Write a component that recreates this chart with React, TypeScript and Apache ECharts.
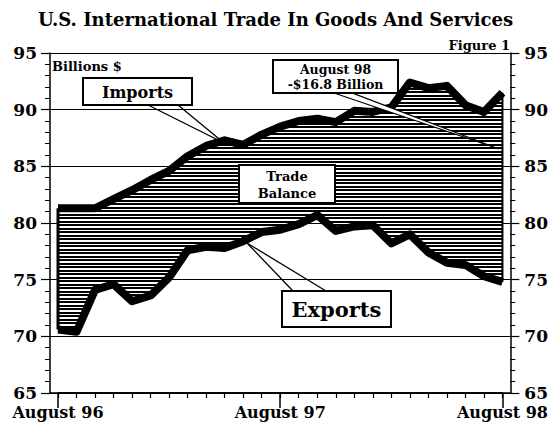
import React, { useEffect, useRef } from "react";
import * as echarts from "echarts";

const months = [
  "August 96", "September 96", "October 96", "November 96", "December 96",
  "January 97", "February 97", "March 97", "April 97", "May 97", "June 97", "July 97",
  "August 97", "September 97", "October 97", "November 97", "December 97",
  "January 98", "February 98", "March 98", "April 98", "May 98", "June 98", "July 98",
  "August 98",
];
const imports = [
  81.3, 81.3, 81.3, 82.1, 82.9, 83.8, 84.6, 85.9, 86.8, 87.3, 86.9, 87.8,
  88.5, 89.0, 89.2, 88.9, 89.9, 89.8, 90.2, 92.4, 91.9, 92.1, 90.4, 89.8, 91.5,
];
const exportsVals = [
  70.6, 70.4, 74.1, 74.6, 73.1, 73.6, 75.2, 77.6, 77.9, 77.8, 78.4, 79.2,
  79.4, 79.9, 80.7, 79.3, 79.7, 79.8, 78.2, 79.0, 77.4, 76.5, 76.3, 75.3, 74.8,
];
const yMin = 65;
const yMax = 95;
const yStep = 5;

const FONT = "DejaVu Serif";

function makeHatch() {
  const c = document.createElement("canvas");
  c.width = 4;
  c.height = 7;
  const ctx = c.getContext("2d")!;
  ctx.fillStyle = "#ffffff";
  ctx.fillRect(0, 0, 4, 7);
  ctx.fillStyle = "#000000";
  ctx.fillRect(0, 0, 4, 2);
  ctx.fillRect(0, 4, 4, 2);
  return c;
}

function txt(x: number, y: number, text: string, size: number, align: string = "center", z = 20) {
  return {
    type: "text",
    x,
    y,
    z,
    style: {
      text,
      fill: "#000",
      font: `bold ${size}px "${FONT}"`,
      textAlign: align,
      textVerticalAlign: "middle",
    },
  };
}

function box(x: number, y: number, w: number, h: number, z = 15) {
  return {
    type: "rect",
    z,
    shape: { x, y, width: w, height: h },
    style: { fill: "#fff", stroke: "#000", lineWidth: 2 },
  };
}

function seg(x1: number, y1: number, x2: number, y2: number, z = 14) {
  return {
    type: "line",
    z,
    shape: { x1, y1, x2, y2 },
    style: { stroke: "#000", lineWidth: 1.3 },
  };
}

export default function App() {
  const ref = useRef<HTMLDivElement>(null);
  useEffect(() => {
    if (!ref.current) return;
    const chart = echarts.init(ref.current, null, { renderer: "svg" });
    const hatch = { image: makeHatch(), repeat: "repeat", imageWidth: 4, imageHeight: 7 };
    const band = imports.map((v, i) => +(v - exportsVals[i]).toFixed(2));
    const yCommon = {
      type: "value",
      min: yMin,
      max: yMax,
      interval: yStep,
    };
    const option: any = {
      animation: false,
      backgroundColor: "#fff",
      grid: [
        { left: 50, right: 39, top: 53, bottom: 29 },
        { left: 58, right: 48, top: 53, bottom: 29 },
      ],
      xAxis: [
        {
          gridIndex: 0,
          type: "value",
          position: "bottom",
          min: 0,
          max: 1,
          axisLine: { show: true, lineStyle: { color: "#000", width: 1.5 } },
          axisTick: { show: false },
          axisLabel: { show: false },
          splitLine: { show: false },
        },
        {
          gridIndex: 1,
          type: "category",
          position: "bottom",
          data: months,
          boundaryGap: false,
          axisLine: { show: true, lineStyle: { color: "#000", width: 1.5 } },
          axisTick: { show: true, interval: 0, length: 5, lineStyle: { color: "#000", width: 1.2 } },
          axisLabel: {
            interval: (i: number) => i % 12 === 0,
            color: "#000",
            fontFamily: FONT,
            fontWeight: "bold",
            fontSize: 16,
            margin: 11,
          },
          splitLine: { show: false },
        },
        {
          gridIndex: 1,
          type: "category",
          position: "bottom",
          data: months,
          boundaryGap: false,
          axisLine: { show: true, lineStyle: { color: "#000", width: 1.5 } },
          axisTick: { show: true, interval: (i: number) => i % 12 === 0, length: 15, lineStyle: { color: "#000", width: 1.5 } },
          axisLabel: { show: false },
          splitLine: { show: false },
        },
      ],
      yAxis: [
        {
          ...yCommon,
          gridIndex: 0,
          position: "left",
          axisLine: { show: true, lineStyle: { color: "#000", width: 1.5 } },
          axisTick: { show: true, length: 9, lineStyle: { color: "#000", width: 1.2 } },
          minorTick: { show: true, splitNumber: 5, length: 5, lineStyle: { color: "#000", width: 1 } },
          axisLabel: { color: "#000", fontFamily: FONT, fontWeight: "bold", fontSize: 17, margin: 13 },
          splitLine: { show: true, lineStyle: { color: "#000", width: 1 } },
        },
        {
          ...yCommon,
          gridIndex: 0,
          position: "right",
          axisLine: { show: true, lineStyle: { color: "#000", width: 1.5 } },
          axisTick: { show: true, length: 9, lineStyle: { color: "#000", width: 1.2 } },
          minorTick: { show: true, splitNumber: 5, length: 5, lineStyle: { color: "#000", width: 1 } },
          axisLabel: { color: "#000", fontFamily: FONT, fontWeight: "bold", fontSize: 17, margin: 14 },
          splitLine: { show: false },
        },
        { ...yCommon, gridIndex: 1, show: false },
      ],
      series: [
        {
          name: "base",
          type: "line",
          xAxisIndex: 1,
          yAxisIndex: 2,
          stack: "trade",
          data: exportsVals,
          symbol: "none",
          lineStyle: { width: 0, opacity: 0 },
          silent: true,
          z: 2,
        },
        {
          name: "Trade Balance",
          type: "line",
          xAxisIndex: 1,
          yAxisIndex: 2,
          stack: "trade",
          data: band,
          symbol: "none",
          lineStyle: { width: 0, opacity: 0 },
          areaStyle: { color: hatch, opacity: 1 },
          silent: true,
          z: 2,
        },
        {
          name: "Imports",
          type: "line",
          xAxisIndex: 1,
          yAxisIndex: 2,
          data: imports,
          symbol: "none",
          lineStyle: { color: "#000", width: 8, join: "round" },
          z: 4,
        },
        {
          name: "Exports",
          type: "line",
          xAxisIndex: 1,
          yAxisIndex: 2,
          data: exportsVals,
          symbol: "none",
          lineStyle: { color: "#000", width: 8, join: "round" },
          z: 4,
        },
        {
          name: "leftEdge",
          type: "line",
          xAxisIndex: 1,
          yAxisIndex: 2,
          data: [[0, exportsVals[0]], [0, imports[0]]],
          symbol: "none",
          lineStyle: { color: "#000", width: 3 },
          z: 4,
        },
        {
          name: "rightEdge",
          type: "line",
          xAxisIndex: 1,
          yAxisIndex: 2,
          data: [[24, exportsVals[24]], [24, imports[24]]],
          symbol: "none",
          lineStyle: { color: "#000", width: 2 },
          z: 4,
        },
      ],
      graphic: [
        txt(275.5, 19, "U.S. International Trade In Goods And Services", 18),
        txt(510, 45, "Figure 1", 13, "right"),
        txt(52, 66, "Billions $", 13, "left"),
        // Imports callout
        seg(148, 105, 216, 139),
        seg(178, 105, 218, 138),
        box(83, 78, 109, 27),
        txt(137.5, 92, "Imports", 16),
        // Trade balance
        box(239, 165, 96, 38),
        txt(287, 176, "Trade", 13),
        txt(287, 193, "Balance", 13),
        // Exports callout
        seg(247, 243, 293, 291),
        seg(247, 243, 326, 291),
        box(282, 291, 109, 36),
        txt(336.5, 309.5, "Exports", 21),
        // August 98 callout
        {
          type: "polygon",
          z: 13,
          shape: { points: [[334, 93], [352, 93], [499, 149]] },
          style: { fill: "#fff", stroke: "#000", lineWidth: 1.3 },
        },
        box(273, 60, 125, 33),
        txt(335.5, 69.5, "August 98", 12.5),
        txt(335.5, 84, "-$16.8 Billion", 12.5),
      ],
    };
    chart.setOption(option);
    return () => chart.dispose();
  }, []);
  return (
    <div
      ref={ref}
      style={{ position: "fixed", left: 0, top: 0, width: 551, height: 422, background: "#fff" }}
    />
  );
}
